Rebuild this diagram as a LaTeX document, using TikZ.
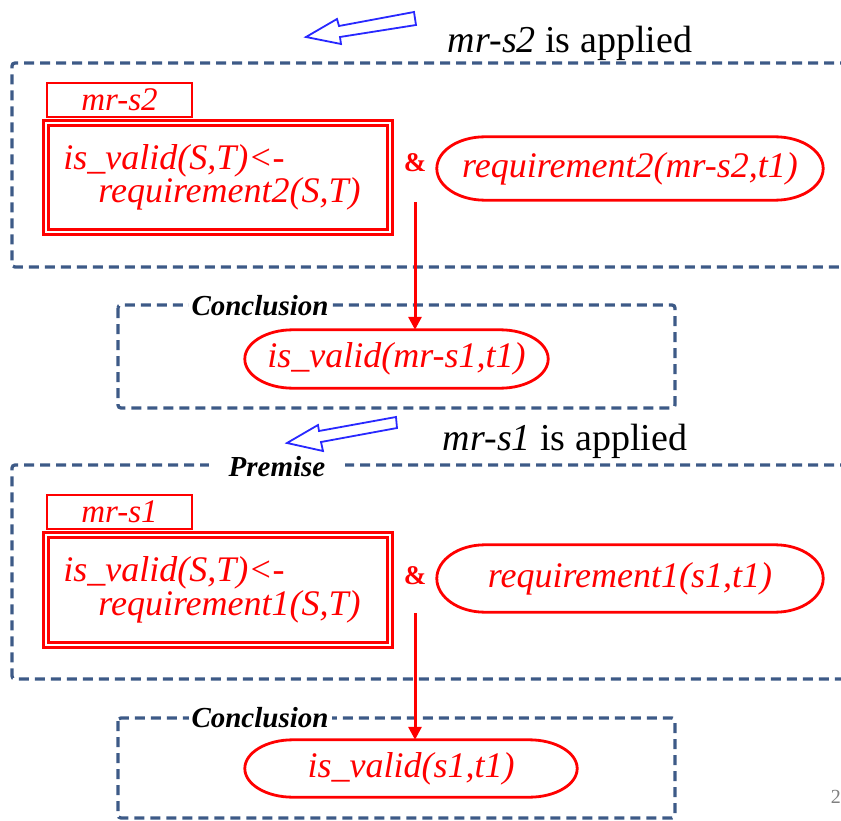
\documentclass[tikz,border=0pt]{standalone}
\usepackage{fontspec}
\setmainfont{Liberation Serif}
\usetikzlibrary{arrows.meta,calc}

\begin{document}
\begin{tikzpicture}[x=1pt, y=-1pt,
    every node/.style={inner sep=0pt},
    frame/.style={draw=my-slate, line width=3.3pt, dash pattern=on 10pt off 6pt, rounded corners=3pt},
    tab/.style={draw=red, line width=2.6pt, minimum width=145pt, minimum height=34pt, text=red, font=\fontsize{33}{33}\selectfont\itshape},
    rulebox/.style={draw=red, double, double distance=2.6pt, line width=2.4pt, minimum width=344pt, minimum height=109pt, text=red, align=left, font=\fontsize{36}{30}\selectfont\itshape},
    fact/.style={text=red, font=\fontsize{36}{36}\selectfont\itshape},
    factline/.style={draw=red, line width=2.8pt},
    amp/.style={text=red, font=\fontsize{27}{27}\selectfont\bfseries},
    tag/.style={fill=white, inner xsep=3pt, inner ysep=1pt, font=\fontsize{29}{29}\selectfont\bfseries\itshape},
    flow/.style={draw=red, line width=3pt, -{Triangle[length=13pt,width=13pt]}},
    hollow/.style={draw=my-blue, line width=1.8pt, line join=miter},
    heading/.style={font=\fontsize{38}{38}\selectfont}]
    \definecolor{my-slate}{RGB}{61,90,135}
    \definecolor{my-blue}{RGB}{40,40,255}
    % outline with half-ellipse ends round a fact node
    \def\oval#1{\draw[factline] let \p1=(#1.north), \p2=(#1.south), \n1={abs(\y1-\y2)/2} in
      ([xshift=48pt]#1.north west) -- ([xshift=-48pt]#1.north east)
      arc[start angle=90, end angle=-90, x radius=48pt, y radius=\n1]
      -- ([xshift=48pt]#1.south west)
      arc[start angle=270, end angle=90, x radius=48pt, y radius=\n1] -- cycle;}
    \useasboundingbox (0,0) rectangle (841,821);

    % mr-s2 step
    \draw[hollow] (306,37) -- (337,19) -- (339,26) -- (414,12) -- (416,25) -- (340,37) -- (341,44) -- cycle;
    \node[heading] (head2) at (570,43) {\textit{mr-s2} is applied};
    \draw[frame] (850,63) -- (12,63) -- (12,267) -- (850,267);
    \node[tab] (tab2) at (119.5,100) {mr-s2};
    \node[rulebox] (rule2) at (218,177.5) {is\_valid(S,T)<-\\\hspace*{35pt}requirement2(S,T)\hspace*{12pt}};
    \node[amp] (amp2) at (415,163) {\&};
    \node[fact, minimum width=386pt, minimum height=63pt] (req2) at (630,168.5) {requirement2(mr-s2,t1)};
    \oval{req2}

    \draw[frame] (118,305) rectangle (675,408);
    \node[tag] (concl2) at (260,306) {Conclusion};
    \node[fact, minimum width=303pt, minimum height=58pt] (valid2) at (396.5,359) {is\_valid(mr-s1,t1)};
    \oval{valid2}
    \draw[flow, shorten <=30pt] (amp2.south) -- (amp2.south |- valid2.north);

    % mr-s1 step
    \draw[hollow] (287,443) -- (318,425) -- (319,431) -- (396,417) -- (397,428) -- (321,442) -- (323,451) -- cycle;
    \node[heading] (head1) at (565,441) {\textit{mr-s1} is applied};
    \draw[frame] (850,465) -- (12,465) -- (12,679) -- (850,679);
    \node[tag, inner xsep=20pt] (prem1) at (277,467) {Premise};
    \node[tab] (tab1) at (119.5,512) {mr-s1};
    \node[rulebox, minimum height=110pt] (rule1) at (218,590) {is\_valid(S,T)<-\\\hspace*{35pt}requirement1(S,T)\hspace*{12pt}};
    \node[amp] (amp1) at (415,576) {\&};
    \node[fact, minimum width=386pt, minimum height=67pt] (req1) at (630,578.5) {requirement1(s1,t1)};
    \oval{req1}

    \draw[frame] (118,718) rectangle (675,818);
    \node[tag] (concl1) at (260,718) {Conclusion};
    \node[fact, minimum width=332pt, minimum height=57pt] (valid1) at (411,768.5) {is\_valid(s1,t1)};
    \oval{valid1}
    \draw[flow, shorten <=28pt] (amp1.south) -- (amp1.south |- valid1.north);

    \node[anchor=east, text=gray, font=\fontsize{20}{20}\selectfont] (page) at (841,797) {2};
\end{tikzpicture}
\end{document}
